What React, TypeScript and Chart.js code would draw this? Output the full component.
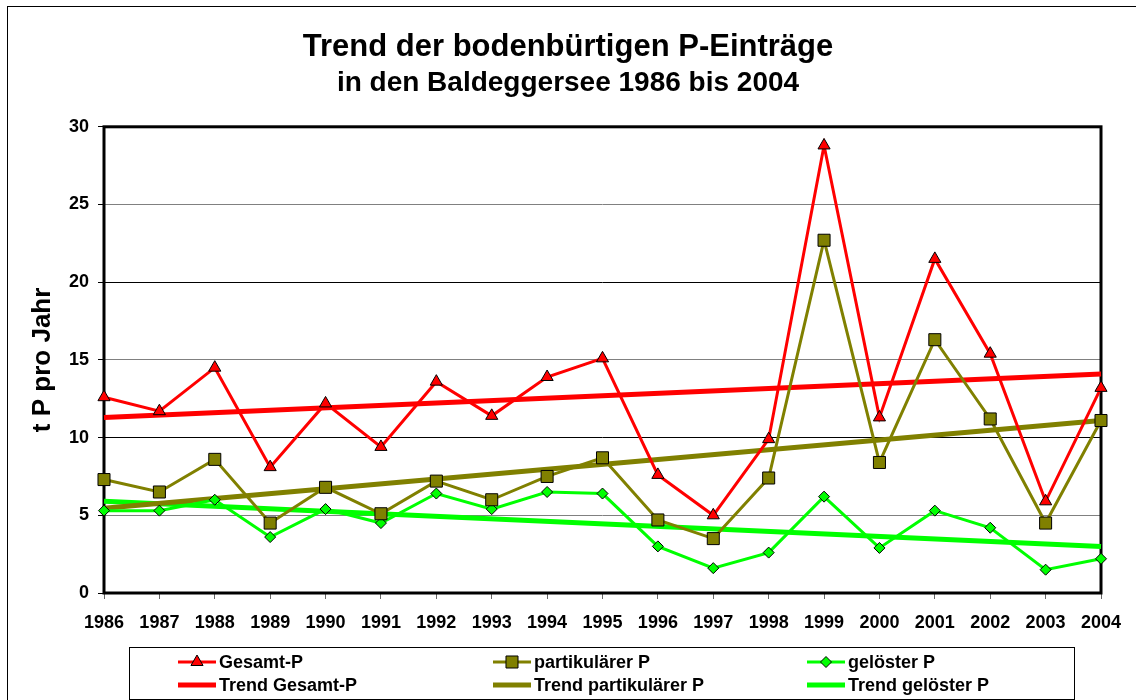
import React, { useEffect, useRef } from "react";
import { Chart, registerables } from "chart.js";

Chart.register(...registerables);

const years = ["1986","1987","1988","1989","1990","1991","1992","1993","1994","1995","1996","1997","1998","1999","2000","2001","2002","2003","2004"];
const gesamtP = [12.6, 11.7, 14.5, 8.1, 12.2, 9.4, 13.6, 11.4, 13.9, 15.1, 7.6, 5.0, 9.9, 28.8, 11.3, 21.5, 15.4, 5.9, 13.2];
const partikulaerP = [7.3, 6.5, 8.6, 4.5, 6.8, 5.1, 7.2, 6.0, 7.5, 8.7, 4.7, 3.5, 7.4, 22.7, 8.4, 16.3, 11.2, 4.5, 11.1];
const geloestP = [5.3, 5.3, 6.0, 3.6, 5.4, 4.5, 6.4, 5.4, 6.5, 6.4, 3.0, 1.6, 2.6, 6.2, 2.9, 5.3, 4.2, 1.5, 2.2];
// trend lines: values at first and last year
const trendGesamt = [11.3, 14.1];
const trendPartikulaer = [5.45, 11.1];
const trendGeloest = [5.9, 3.0];

const titleText = "Trend der bodenbürtigen P-Einträge";
const subtitleText = "in den Baldeggersee 1986 bis 2004";
const yTitle = "t P pro Jahr";
const legendLabels = ["Gesamt-P", "partikulärer P", "gelöster P", "Trend Gesamt-P", "Trend partikulärer P", "Trend gelöster P"];

const FONT = 'Arial, "Liberation Sans", sans-serif';
const RED = "#ff0000";
const OLIVE = "#808000";
const GREEN = "#00ff00";

function endpoints(v: number[]) {
  return years.map((_, i) => (i === 0 ? v[0] : i === years.length - 1 ? v[1] : null));
}

function drawMarker(ctx: CanvasRenderingContext2D, style: string, x: number, y: number, r: number, fill: string) {
  ctx.save();
  ctx.fillStyle = fill;
  ctx.strokeStyle = "#000";
  ctx.lineWidth = 1;
  ctx.beginPath();
  if (style === "triangle") {
    for (let k = 0; k < 3; k++) {
      const a = (k * 2 * Math.PI) / 3;
      const px = x + Math.sin(a) * r;
      const py = y - Math.cos(a) * r;
      if (k === 0) ctx.moveTo(px, py); else ctx.lineTo(px, py);
    }
    ctx.closePath();
  } else if (style === "rect") {
    const s = r * Math.SQRT1_2;
    ctx.rect(x - s, y - s, 2 * s, 2 * s);
  } else if (style === "rectRot") {
    ctx.moveTo(x, y - r);
    ctx.lineTo(x + r, y);
    ctx.lineTo(x, y + r);
    ctx.lineTo(x - r, y);
    ctx.closePath();
  }
  ctx.fill();
  ctx.stroke();
  ctx.restore();
}

const decorPlugin = {
  id: "decor",
  beforeDatasetsDraw(chart: any) {
    const { ctx, chartArea: a } = chart;
    ctx.save();
    ctx.strokeStyle = "#000";
    ctx.lineWidth = 3;
    ctx.strokeRect(a.left, a.top, a.right - a.left, a.bottom - a.top);
    ctx.restore();
  },
  afterDraw(chart: any) {
    const { ctx } = chart;
    ctx.save();
    // outer frame (extends beyond the page)
    ctx.strokeStyle = "#000";
    ctx.lineWidth = 1;
    ctx.strokeRect(7.5, 6.5, 2000, 2000);
    // legend box
    ctx.strokeRect(129.5, 647.5, 945, 52);
    const colX = [178, 493, 807];
    const rowY = [662, 685];
    const sampleLen = 38;
    ctx.font = `bold 18px ${FONT}`;
    ctx.textBaseline = "middle";
    ctx.textAlign = "left";
    chart.data.datasets.forEach((ds: any, i: number) => {
      const col = i % 3;
      const row = Math.floor(i / 3);
      const x0 = colX[col];
      const y = rowY[row];
      ctx.strokeStyle = ds.borderColor;
      ctx.lineWidth = ds.borderWidth;
      ctx.beginPath();
      ctx.moveTo(x0, y);
      ctx.lineTo(x0 + sampleLen, y);
      ctx.stroke();
      if (ds.pointRadius > 0) {
        drawMarker(ctx, ds.pointStyle, x0 + sampleLen / 2, y, ds.pointRadius, ds.pointBackgroundColor);
      }
      ctx.fillStyle = "#000";
      ctx.fillText(legendLabels[i], x0 + sampleLen + 3, y + 1);
    });
    ctx.restore();
  },
};

export default function App() {
  const canvasRef = useRef<HTMLCanvasElement | null>(null);

  useEffect(() => {
    const canvas = canvasRef.current;
    if (!canvas) return;
    const chart = new Chart(canvas, {
      type: "line",
      data: {
        labels: years,
        datasets: [
          {
            label: legendLabels[0],
            data: gesamtP,
            borderColor: RED,
            backgroundColor: RED,
            borderWidth: 3,
            pointStyle: "triangle",
            pointRadius: 7,
            pointBackgroundColor: RED,
            pointBorderColor: "#000",
            pointBorderWidth: 1,
            tension: 0,
            clip: false,
          },
          {
            label: legendLabels[1],
            data: partikulaerP,
            borderColor: OLIVE,
            backgroundColor: OLIVE,
            borderWidth: 3,
            pointStyle: "rect",
            pointRadius: 8.5,
            pointBackgroundColor: OLIVE,
            pointBorderColor: "#000",
            pointBorderWidth: 1,
            tension: 0,
            clip: false,
          },
          {
            label: legendLabels[2],
            data: geloestP,
            borderColor: GREEN,
            backgroundColor: GREEN,
            borderWidth: 3,
            pointStyle: "rectRot",
            pointRadius: 5.5,
            pointBackgroundColor: GREEN,
            pointBorderColor: "#000",
            pointBorderWidth: 1,
            tension: 0,
            clip: false,
          },
          {
            label: legendLabels[3],
            data: endpoints(trendGesamt),
            borderColor: RED,
            borderWidth: 5,
            pointRadius: 0,
            spanGaps: true,
            clip: false,
          },
          {
            label: legendLabels[4],
            data: endpoints(trendPartikulaer),
            borderColor: OLIVE,
            borderWidth: 5,
            pointRadius: 0,
            spanGaps: true,
            clip: false,
          },
          {
            label: legendLabels[5],
            data: endpoints(trendGeloest),
            borderColor: GREEN,
            borderWidth: 5,
            pointRadius: 0,
            spanGaps: true,
            clip: false,
          },
        ] as any,
      },
      options: {
        animation: false,
        responsive: false,
        events: [],
        layout: { padding: { top: 0, left: 0, right: 0, bottom: 0 } },
        plugins: {
          legend: { display: false },
          tooltip: { enabled: false },
          title: {
            display: true,
            text: titleText,
            color: "#000",
            font: { family: FONT, size: 31, weight: "bold" },
            padding: { top: 29, bottom: 0 },
          },
          subtitle: {
            display: true,
            text: subtitleText,
            color: "#000",
            font: { family: FONT, size: 28, weight: "bold" },
            padding: { top: 0, bottom: 27 },
          },
        },
        scales: {
          x: {
            type: "category",
            offset: false,
            afterFit: (scale: any) => { scale.height = 107; },
            grid: { display: true, drawOnChartArea: false, drawTicks: true, tickLength: 6, tickColor: "#666", lineWidth: 1 },
            border: { display: false },
            ticks: { color: "#000", font: { family: FONT, size: 18, weight: "bold" }, padding: 13, autoSkip: false, maxRotation: 0 },
          },
          y: {
            min: 0,
            max: 30,
            afterFit: (scale: any) => { scale.width = 104; },
            grid: {
              color: (c: any) => (c.tick && c.tick.value % 10 === 0 ? "#000" : "#808080"),
              tickColor: "#000",
              tickLength: 6,
              lineWidth: 1,
            },
            border: { display: false },
            ticks: { stepSize: 5, color: "#000", font: { family: FONT, size: 18, weight: "bold" }, padding: 9 },
            title: {
              display: true,
              text: yTitle,
              color: "#000",
              font: { family: FONT, size: 26, weight: "bold" },
              padding: { top: 27, bottom: 0 },
            },
          },
          spacer: {
            type: "linear",
            position: "right",
            display: true,
            afterFit: (scale: any) => { scale.width = 35; },
            grid: { display: false, drawTicks: false },
            border: { display: false },
            ticks: { display: false },
          },
        },
      },
      plugins: [decorPlugin],
    });
    return () => chart.destroy();
  }, []);

  return (
    <div style={{ position: "absolute", left: 0, top: 0, width: 1136, height: 700, background: "#fff" }}>
      <canvas ref={canvasRef} width={1136} height={700} style={{ width: 1136, height: 700, display: "block" }} />
    </div>
  );
}
